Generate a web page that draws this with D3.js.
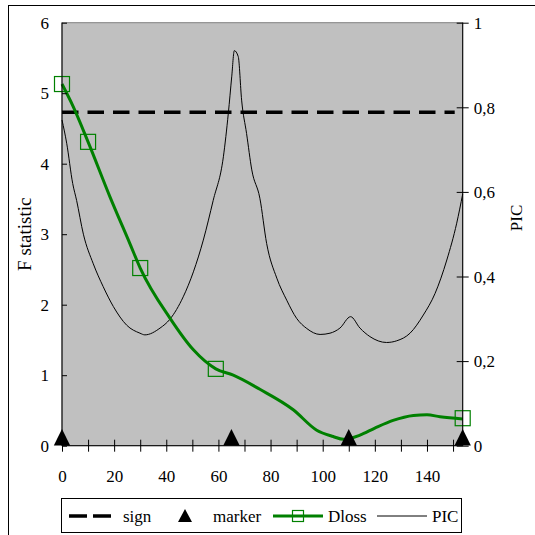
<!DOCTYPE html>
<html>
<head>
<meta charset="utf-8">
<script src="https://cdn.jsdelivr.net/npm/d3@7"></script>
<style>
  body { margin: 0; background: #fff; }
  svg, svg text { font-family: "Liberation Serif", "Tinos", "DejaVu Serif", serif; }
</style>
</head>
<body>
<svg id="chart" width="535" height="535"></svg>
<script>
// data
const xTicks = [0, 20, 40, 60, 80, 100, 120, 140];
const fTicks = [0, 1, 2, 3, 4, 5, 6];
const picTicks = [0, 0.2, 0.4, 0.6, 0.8, 1];
const xMax = 153.7;
const signValue = 4.73;
const markerX = [0, 65, 110, 153.7];
const markerY = [0.12, 0.12, 0.12, 0.12];
const dlossX = [0, 4.3, 10, 18.4, 26, 30, 41.4, 50.4, 59, 65.7, 75.9, 88.7, 97.7, 104, 108, 114.3, 120, 127, 134.8, 140, 145, 153.7];
const dlossY = [5.13, 4.81, 4.31, 3.53, 2.87, 2.52, 1.81, 1.36, 1.09, 1.0, 0.8, 0.51, 0.22, 0.13, 0.09, 0.15, 0.25, 0.36, 0.43, 0.44, 0.41, 0.38];
const dlossMarkX = [0, 10, 30, 59, 153.7];
const dlossMarkY = [5.13, 4.31, 2.52, 1.09, 0.39];
const picX = [0, 1.8, 4.1, 5.6, 8.2, 12, 15.8, 19.7, 24.8, 29.9, 31.8, 37.6, 41.4, 46.5, 50.4, 54.2, 58, 61.9, 63.8, 65.1, 66.1, 67.6, 68.9, 70.8, 72.8, 75.9, 78.5, 82.4, 86.2, 90, 93.9, 99, 102.8, 106.6, 110.7, 114.3, 118.1, 124.5, 128.4, 133.5, 138.6, 143.1, 147.6, 151.4, 153.7];
const picY = [0.77, 0.715, 0.62, 0.58, 0.5, 0.43, 0.376, 0.329, 0.285, 0.266, 0.262, 0.278, 0.299, 0.352, 0.411, 0.486, 0.58, 0.683, 0.786, 0.872, 0.934, 0.92, 0.817, 0.738, 0.652, 0.585, 0.478, 0.396, 0.344, 0.301, 0.277, 0.263, 0.266, 0.278, 0.305, 0.278, 0.258, 0.244, 0.248, 0.266, 0.309, 0.36, 0.439, 0.526, 0.595];

const svg = d3.select('#chart');
const pLeft = 62, pRight = 462.7, pTop = 22.7, pBottom = 445.7;
const green = '#008000';
const serif = '"Liberation Serif", "Tinos", "DejaVu Serif", serif';

let x = d3.scaleLinear().domain([0, xMax]).range([pLeft, pRight]);
let yF = d3.scaleLinear().domain([0, 6]).range([pBottom, pTop]);
let yP = d3.scaleLinear().domain([0, 1]).range([pBottom, pTop]);

// chart area border
svg.append('rect')
	.attr('x', 8.5).attr('y', 5.5)
	.attr('width', 600).attr('height', 600)
	.attr('fill', 'none').attr('stroke', '#000');

// plot area
svg.append('rect')
	.attr('x', pLeft).attr('y', pTop)
	.attr('width', pRight - pLeft).attr('height', pBottom - pTop)
	.attr('fill', '#c0c0c0').attr('stroke', '#808080');

// PIC line (secondary axis)
svg.append('path')
	.datum(picX.map((d, i) => [d, picY[i]]))
	.attr('fill', 'none').attr('stroke', '#000').attr('stroke-width', 1)
	.attr('d', d3.line().x(d => x(d[0])).y(d => yP(d[1])).curve(d3.curveMonotoneX));

// sign line
svg.append('line')
	.attr('x1', x(0)).attr('x2', x(xMax) - 8)
	.attr('y1', yF(signValue)).attr('y2', yF(signValue))
	.attr('stroke', '#000').attr('stroke-width', 3.5)
	.attr('stroke-dasharray', '16.5,9');

// Dloss line
svg.append('path')
	.datum(dlossX.map((d, i) => [d, dlossY[i]]))
	.attr('fill', 'none').attr('stroke', green).attr('stroke-width', 3)
	.attr('d', d3.line().x(d => x(d[0])).y(d => yF(d[1])).curve(d3.curveMonotoneX));

svg.append('g')
	.selectAll('rect')
	.data(dlossMarkX.map((d, i) => [d, dlossMarkY[i]]))
	.enter()
	.append('rect')
	.attr('x', d => x(d[0]) - 7.5)
	.attr('y', d => yF(d[1]) - 7.5)
	.attr('width', 15).attr('height', 15)
	.attr('fill', 'none').attr('stroke', green).attr('stroke-width', 1.2);

// axes
let axisB = d3.axisBottom(x).tickValues(d3.range(0, 151, 10)).tickSize(6).tickFormat('');
let gx = svg.append('g').attr('transform', `translate(0,${pBottom})`).call(axisB);
gx.selectAll('.tick line').attr('y1', -6);
gx.select('.domain').attr('d', `M${pLeft},0H${pRight}`);
gx.selectAll('.tick')
	.filter(d => xTicks.includes(d))
	.append('text')
	.attr('y', 36).attr('fill', '#000')
	.text(d => d);

let axisL = d3.axisLeft(yF).tickValues(fTicks).tickSize(5).tickFormat(d3.format('d'));
let gl = svg.append('g').attr('transform', `translate(${pLeft},0)`).call(axisL);
gl.selectAll('.tick line').attr('x2', 5);
gl.selectAll('.tick text').attr('x', -13).attr('dy', '0.34em');
gl.select('.domain').attr('d', `M0,${pTop}V${pBottom}`);

let axisR = d3.axisRight(yP).tickValues(picTicks).tickSize(6)
	.tickFormat(d => String(d).replace('.', ','));
let gr = svg.append('g').attr('transform', `translate(${pRight},0)`).call(axisR);
gr.selectAll('.tick line').attr('x1', -6);
gr.selectAll('.tick text').attr('x', 11).attr('dy', '0.34em');
gr.select('.domain').attr('d', `M0,${pTop}V${pBottom}`);

svg.selectAll('.domain, .tick line').attr('stroke', '#000');
svg.selectAll('g').attr('font-family', serif).attr('font-size', 17);

// marker triangles
let tri = 8.2;
svg.append('g')
	.selectAll('path')
	.data(markerX.map((d, i) => [d, markerY[i]]))
	.enter()
	.append('path')
	.attr('d', d => {
		let cx = x(d[0]), cy = yF(d[1]);
		return `M${cx},${cy - tri}L${cx + tri},${cy + tri}L${cx - tri},${cy + tri}Z`;
	})
	.attr('fill', '#000');

// axis titles
svg.append('text')
	.attr('transform', `translate(31,${(pTop + pBottom) / 2}) rotate(-90)`)
	.attr('text-anchor', 'middle')
	.attr('font-family', serif).attr('font-size', 19)
	.text('F statistic');
svg.append('text')
	.attr('transform', `translate(522,218) rotate(-90)`)
	.attr('text-anchor', 'middle')
	.attr('font-family', serif).attr('font-size', 17)
	.text('PIC');

// legend
let lg = svg.append('g').attr('font-family', serif).attr('font-size', 17);
let ly = 516;
lg.append('rect')
	.attr('x', 61.5).attr('y', 498.5).attr('width', 400).attr('height', 34)
	.attr('fill', '#fff').attr('stroke', '#000');
lg.append('line')
	.attr('x1', 69).attr('x2', 111).attr('y1', ly).attr('y2', ly)
	.attr('stroke', '#000').attr('stroke-width', 3.5).attr('stroke-dasharray', '18,6');
lg.append('path')
	.attr('d', `M185,${ly - 7}L192,${ly + 6}L178,${ly + 6}Z`)
	.attr('fill', '#000');
lg.append('line')
	.attr('x1', 273).attr('x2', 323).attr('y1', ly).attr('y2', ly)
	.attr('stroke', green).attr('stroke-width', 3);
lg.append('rect')
	.attr('x', 292.5).attr('y', ly - 5.5).attr('width', 11).attr('height', 11)
	.attr('fill', 'none').attr('stroke', green).attr('stroke-width', 1.2);
lg.append('line')
	.attr('x1', 377).attr('x2', 427).attr('y1', ly).attr('y2', ly)
	.attr('stroke', '#000').attr('stroke-width', 1);
const legendText = [['sign', 123], ['marker', 213], ['Dloss', 328], ['PIC', 432]];
lg.selectAll('text.lt')
	.data(legendText)
	.enter()
	.append('text')
	.attr('class', 'lt')
	.attr('x', d => d[1]).attr('y', ly).attr('dy', '0.34em')
	.text(d => d[0]);
</script>
</body>
</html>
